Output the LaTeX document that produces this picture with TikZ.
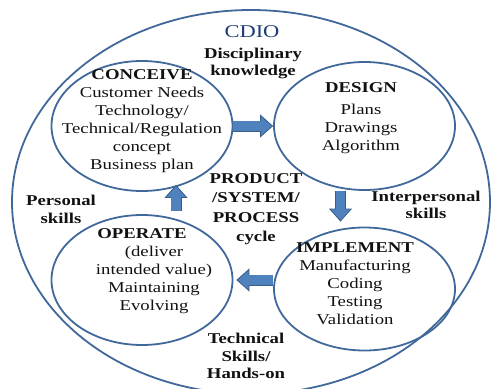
\documentclass[tikz,border=0pt]{standalone}
\usepackage{fontspec}
\setmainfont{Liberation Serif}[FakeStretch=1.25]
\usetikzlibrary{arrows.meta,positioning,shapes.geometric}
\definecolor{ink}{HTML}{111111}
\definecolor{rim}{HTML}{41689A}
\definecolor{navy}{HTML}{1F3C74}
\definecolor{af}{HTML}{4F81BD}
\definecolor{ae}{HTML}{385D8A}
\tikzset{
  stage/.style={ellipse,draw=rim,line width=1.8pt,inner sep=0,minimum width=181pt,minimum height=130pt},
  txt/.style={align=center,inner sep=0,text=ink,font=\fontsize{15}{18}\selectfont},
  skill/.style={align=center,inner sep=0,text=ink,font=\bfseries\fontsize{15}{17.5}\selectfont},
  blk/.style={line width=9.5pt,draw=af,-{Triangle[length=13pt,width=23pt,color=ae,fill=af,line width=0.8pt]},
    preaction={draw=ae,line width=11pt,arrows=-,shorten >=11pt},
    postaction={draw=af,line width=9.5pt,arrows=-,shorten >=12pt}}
}

\begin{document}
\begin{tikzpicture}[x=1pt,y=-1pt]
\useasboundingbox (0,0) rectangle (491,389);
% ---------------- outer CDIO ellipse ----------------
\node[ellipse,draw=rim,line width=1.8pt,inner sep=0,minimum width=478pt,minimum height=384pt] (cdio) at (251,202) {};
\node[text=navy,inner sep=0,font=\fontsize{18}{20}\selectfont] (cdiotxt) at (252,32) {CDIO};
% ---------------- the four stages ----------------
\node[stage] (conceive) at (142,126) {};
\node[stage,minimum height=128pt] (design) at (364.5,126) {};
\node[stage] (operate) at (142,280) {};
\node[stage,minimum height=123pt] (implement) at (364.5,289) {};
\draw[blk] (conceive.east) -- (design.west);
\draw[blk] ([xshift=-24pt]design.south) -- ([xshift=-24pt,yshift=5pt]implement.north);
\draw[blk] ([yshift=9pt]implement.west) -- ([xshift=3pt]operate.east);
\draw[blk] ([xshift=34pt,yshift=3pt]operate.north) -- ([xshift=34pt,yshift=7pt]conceive.south);
\node[txt] (conceivetxt) at (142,121) {\textbf{CONCEIVE}\\Customer Needs\\Technology/\\Technical/Regulation\\concept\\Business plan};
\node[txt] (designtxt) at (361,118) {\textbf{DESIGN}\\[4pt]Plans\\Drawings\\Algorithm};
\node[txt] (operatetxt) at (154,271) {\textbf{OPERATE}\kern24pt\\(deliver\\intended value)\\Maintaining\\Evolving};
\node[txt] (implementtxt) at (355,283.5) {\textbf{IMPLEMENT}\\Manufacturing\\Coding\\Testing\\Validation};
% ---------------- skills and cycle ----------------
\node[skill] (discipl) at (253,63.5) {Disciplinary\\knowledge};
\node[skill] (personal) at (61,209.5) {Personal\\skills};
\node[skill] (interpers) at (426,205) {Interpersonal\\skills};
\node[skill] (technical) at (246,356) {Technical\\Skills/\\Hands-on};
\node[skill,font=\bfseries\fontsize{15}{19.5}\selectfont] (cycle) at (256,209) {PRODUCT\\/SYSTEM/\\PROCESS\\cycle};
\end{tikzpicture}
\end{document}
